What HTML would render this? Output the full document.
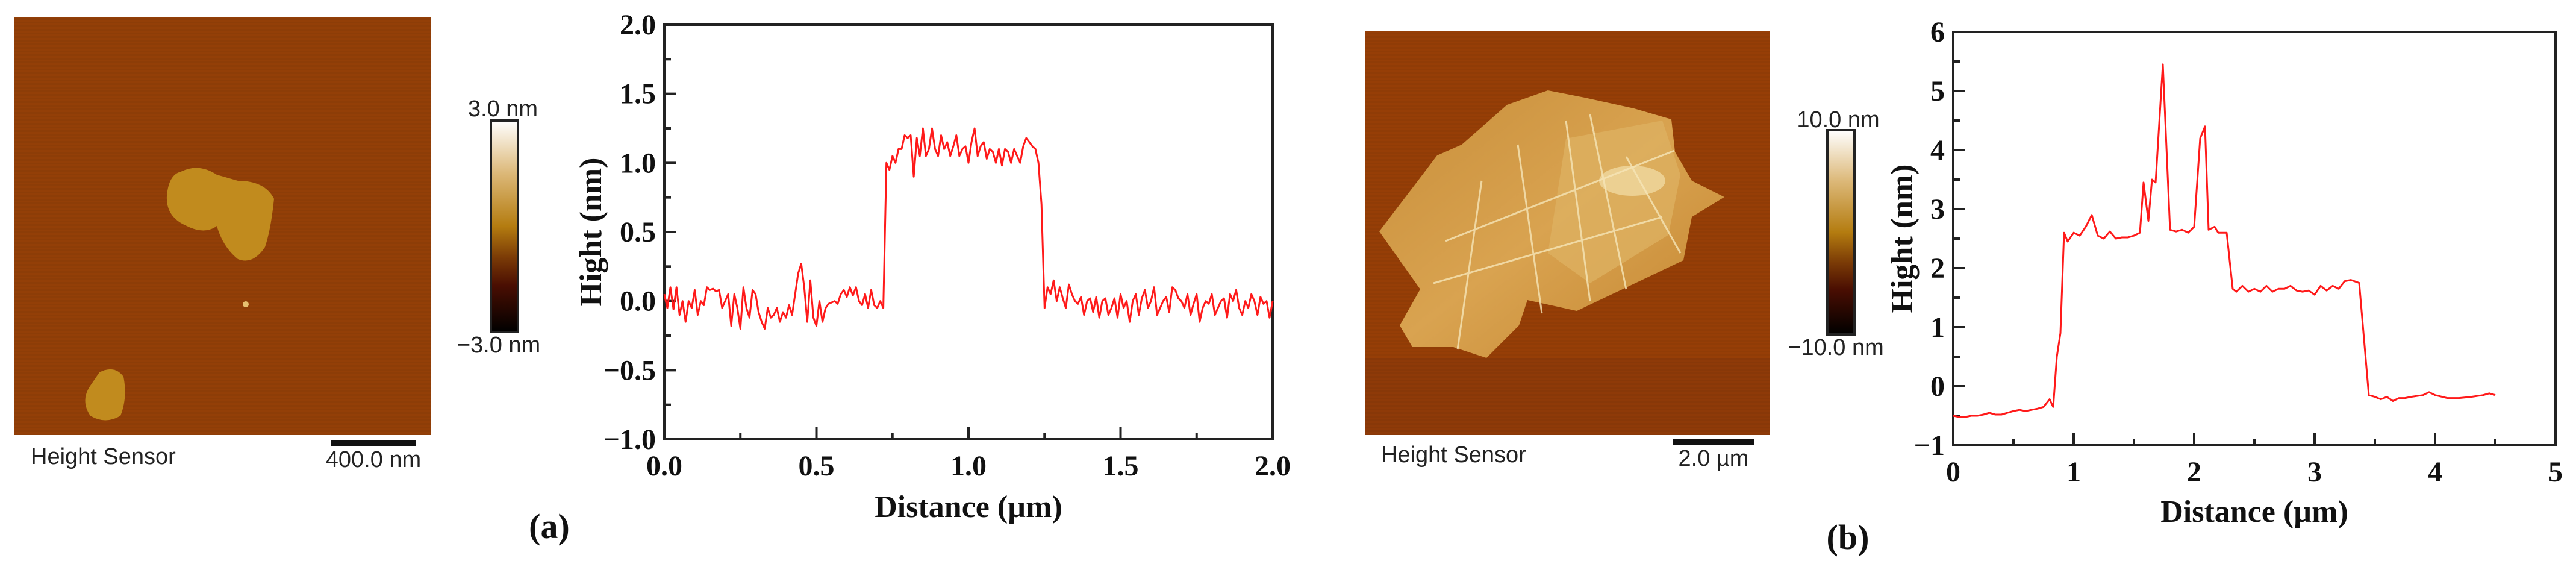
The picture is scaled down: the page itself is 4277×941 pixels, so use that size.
<!DOCTYPE html>
<html><head><meta charset="utf-8">
<style>
html,body{margin:0;padding:0;background:#fff;}
svg{display:block;}
.tk{font-family:"Liberation Serif",serif;font-weight:bold;font-size:48px;fill:#111;}
.ttl{font-family:"Liberation Serif",serif;font-weight:bold;font-size:52px;fill:#111;}
.afm{font-family:"Liberation Sans",sans-serif;font-size:38px;fill:#222;}
</style></head>
<body>
<svg id="fig" width="4277" height="941" viewBox="0 0 4277 941" xmlns="http://www.w3.org/2000/svg">
<defs>
<linearGradient id="cbar" x1="0" y1="0" x2="0" y2="1">
<stop offset="0" stop-color="#ffffff"/><stop offset="0.25" stop-color="#dcb878"/>
<stop offset="0.5" stop-color="#b47c10"/><stop offset="0.65" stop-color="#7a3a06"/>
<stop offset="0.78" stop-color="#4a0e02"/><stop offset="1" stop-color="#000"/>
</linearGradient>
<linearGradient id="flake" x1="0" y1="0" x2="1" y2="1">
<stop offset="0" stop-color="#c88e3a"/><stop offset="0.5" stop-color="#d9a350"/><stop offset="1" stop-color="#c48530"/>
</linearGradient>
<pattern id="scan" width="6" height="6" patternUnits="userSpaceOnUse"><rect width="6" height="3" fill="#000" opacity="0.04"/></pattern>
</defs>

<!-- Panel a AFM image -->
<g>
<rect x="24" y="29" width="692" height="693" fill="#933f07"/>
<rect x="24" y="29" width="692" height="693" fill="url(#scan)"/>
<path d="M300 285 Q330 270 360 290 L395 300 Q440 300 455 330 Q450 380 440 410 Q420 440 395 430 Q370 410 360 375 Q340 390 310 375 Q275 360 277 325 Q280 290 300 285 Z" fill="#c18b1e"/>
<path d="M165 618 Q190 605 205 625 Q212 660 200 690 Q175 705 150 690 Q133 665 150 640 Z" fill="#c18b1e"/>
<circle cx="408" cy="505" r="5" fill="#e6c070"/>
</g>
<rect x="815" y="200" width="45" height="351" fill="url(#cbar)" stroke="#222" stroke-width="4"/>
<text class="afm" x="835" y="193" text-anchor="middle">3.0 nm</text>
<text class="afm" x="828" y="585" text-anchor="middle">−3.0 nm</text>
<text class="afm" x="51" y="770">Height Sensor</text>
<rect x="550" y="731" width="140" height="9" fill="#111"/>
<text class="afm" x="620" y="775" text-anchor="middle">400.0 nm</text>
<text class="ttl" x="912" y="893" text-anchor="middle" style="font-size:58px">(a)</text>

<!-- Panel b AFM image -->
<g>
<rect x="2267" y="51" width="672" height="671" fill="#963e06"/>
<rect x="2267" y="594" width="672" height="128" fill="#8e3a08"/>
<rect x="2267" y="51" width="672" height="671" fill="url(#scan)"/>
<path d="M2502 174 L2570 150 L2631 162 L2713 180 L2775 198 L2781 252 L2809 300 L2863 327 L2809 360 L2795 432 L2618 516 L2536 498 L2522 540 L2468 594 L2413 576 L2345 576 L2324 540 L2358 480 L2290 384 L2345 312 L2386 258 L2427 240 L2468 204 Z" fill="url(#flake)"/>
<path d="M2600 230 L2760 200 L2790 290 L2770 390 L2640 470 L2570 420 Z" fill="#ddb060" opacity="0.8"/>
<ellipse cx="2710" cy="300" rx="55" ry="25" fill="#f0d8a0" opacity="0.8"/>
<g stroke="#f6e6b8" stroke-width="3" fill="none" opacity="0.8">
<path d="M2600 200 L2640 500"/><path d="M2640 190 L2700 480"/><path d="M2400 400 L2780 250"/><path d="M2380 470 L2760 360"/><path d="M2460 300 L2420 580"/><path d="M2700 260 L2790 420"/><path d="M2520 240 L2560 520"/>
</g>
</g>
<rect x="3034" y="216" width="45" height="339" fill="url(#cbar)" stroke="#222" stroke-width="4"/>
<text class="afm" x="3052" y="211" text-anchor="middle">10.0 nm</text>
<text class="afm" x="3048" y="589" text-anchor="middle">−10.0 nm</text>
<text class="afm" x="2293" y="767">Height Sensor</text>
<rect x="2777" y="729" width="136" height="9" fill="#111"/>
<text class="afm" x="2845" y="773" text-anchor="middle">2.0 µm</text>
<text class="ttl" x="3068" y="911" text-anchor="middle" style="font-size:58px">(b)</text>

<g id="chartA"></g>
<g id="chartB"></g>
</svg>
<script>
// ---- Chart A data ----
const stepA = 0.01;
const heightA = [
0.05,-0.05,0.1,-0.06,0.1,-0.1,0.0,-0.15,0.0,-0.05,
0.08,-0.1,0.0,-0.03,0.1,0.08,0.09,0.07,0.08,-0.05,
0.0,0.05,-0.18,0.05,-0.05,-0.2,0.1,-0.05,-0.12,0.08,
0.05,-0.08,-0.15,-0.2,-0.05,-0.12,-0.1,-0.05,-0.15,-0.08,
-0.12,-0.03,-0.1,0.05,0.2,0.27,0.1,-0.15,0.15,-0.12,
-0.18,0.0,-0.15,-0.05,-0.02,-0.01,0.0,-0.02,0.05,0.08,
0.03,0.1,0.04,0.1,0.0,-0.03,0.05,-0.05,0.08,-0.03,
-0.05,0.0,-0.05,
1.0,0.95,1.05,1.0,1.1,1.1,1.2,1.18,1.2,0.9,1.18,1.05,1.25,1.05,1.1,1.25,1.1,1.05,1.2,1.1,
1.15,1.05,1.12,1.2,1.05,1.1,1.12,1.0,1.15,1.25,1.05,1.12,1.15,1.03,1.1,1.08,1.0,1.1,0.98,1.1,
1.08,1.0,1.1,1.05,1.0,1.12,1.18,1.15,1.12,1.1,1.0,0.7,-0.05,
0.1,0.05,0.15,0.0,0.1,0.02,-0.05,0.12,0.05,0.0,
-0.02,0.03,-0.1,0.0,0.02,-0.08,0.03,-0.12,0.0,0.02,
-0.1,-0.05,0.02,-0.12,0.05,-0.05,0.0,-0.15,0.0,0.05,
-0.1,0.02,0.08,-0.05,0.0,0.1,-0.1,-0.05,0.0,0.03,
-0.08,0.1,0.08,0.02,0.0,-0.05,0.05,-0.1,-0.02,0.05,
-0.15,-0.05,0.0,-0.02,0.05,-0.1,-0.05,0.0,0.02,-0.12,
0.05,0.0,0.08,-0.05,-0.1,0.0,-0.05,0.05,0.0,-0.1,
0.03,-0.02,0.0,-0.12,0.0];
const xTicksA = ["0.0","0.5","1.0","1.5","2.0"];
const yTicksA = ["-1.0","-0.5","0.0","0.5","1.0","1.5","2.0"];

// ---- Chart B data ----
const distB = [0,0.05,0.1,0.15,0.2,0.25,0.3,0.35,0.4,0.45,0.5,0.55,0.6,0.65,0.7,0.75,0.8,0.83,0.86,0.89,0.92,0.95,1.0,1.05,1.1,1.15,1.2,1.25,1.3,1.35,1.4,1.45,1.5,1.55,1.58,1.62,1.65,1.68,1.74,1.8,1.85,1.9,1.95,2.0,2.05,2.09,2.12,2.17,2.2,2.27,2.32,2.35,2.4,2.45,2.5,2.55,2.6,2.65,2.7,2.75,2.8,2.85,2.9,2.95,3.0,3.05,3.1,3.15,3.2,3.25,3.3,3.37,3.45,3.5,3.55,3.6,3.65,3.7,3.75,3.8,3.9,3.95,4.0,4.1,4.2,4.3,4.4,4.45,4.5];
const heightB = [-0.5,-0.52,-0.52,-0.5,-0.5,-0.48,-0.45,-0.48,-0.48,-0.45,-0.42,-0.4,-0.42,-0.4,-0.38,-0.35,-0.22,-0.35,0.5,0.9,2.6,2.45,2.6,2.55,2.7,2.9,2.55,2.5,2.62,2.5,2.52,2.52,2.55,2.6,3.45,2.8,3.5,3.45,5.45,2.65,2.62,2.65,2.6,2.7,4.2,4.4,2.65,2.7,2.6,2.6,1.65,1.6,1.7,1.6,1.65,1.6,1.7,1.6,1.65,1.65,1.7,1.62,1.6,1.62,1.55,1.7,1.62,1.7,1.65,1.78,1.8,1.75,-0.15,-0.18,-0.22,-0.18,-0.25,-0.2,-0.2,-0.18,-0.15,-0.1,-0.15,-0.2,-0.2,-0.18,-0.15,-0.12,-0.15];
const xTicksB = ["0","1","2","3","4","5"];
const yTicksB = ["-1","0","1","2","3","4","5","6"];

const NS = "http://www.w3.org/2000/svg";
function mk(parent, tag, attrs){const e=document.createElementNS(NS,tag);for(const k in attrs)e.setAttribute(k,attrs[k]);parent.appendChild(e);return e;}

function drawChart(g, cfg, xs, ys, xt, yt, key){
  const sx = v => cfg.L + (v - cfg.x0)/(cfg.x1-cfg.x0)*(cfg.R-cfg.L);
  const sy = v => cfg.B - (v - cfg.y0)/(cfg.y1-cfg.y0)*(cfg.B-cfg.T);
  // frame
  const fr = mk(g,'rect',{x:cfg.L,y:cfg.T,width:cfg.R-cfg.L,height:cfg.B-cfg.T,fill:'none',stroke:'#222','stroke-width':4});
  
  
  // x ticks
  xt.forEach((lab,i)=>{
    const v = parseFloat(lab); const x = sx(v);
    const t = mk(g,'line',{x1:x,x2:x,y1:cfg.B,y2:cfg.B-20,stroke:'#222','stroke-width':4});
    
    
    if(i<xt.length-1){ const xm = sx(v+(parseFloat(xt[1])-parseFloat(xt[0]))/2);
      const m = mk(g,'line',{x1:xm,x2:xm,y1:cfg.B,y2:cfg.B-11,stroke:'#222','stroke-width':4});
      
       }
    const tx = mk(g,'text',{x:x,y:cfg.B+60,'text-anchor':'middle','class':'tk'});
    tx.textContent = lab.replace('-','−');
    
    
  });
  // y ticks
  yt.forEach((lab,i)=>{
    const v = parseFloat(lab); const y = sy(v);
    const t = mk(g,'line',{x1:cfg.L,x2:cfg.L+20,y1:y,y2:y,stroke:'#222','stroke-width':4});
    
    
    if(i<yt.length-1){ const ym = sy(v+(parseFloat(yt[1])-parseFloat(yt[0]))/2);
      const m = mk(g,'line',{x1:cfg.L,x2:cfg.L+11,y1:ym,y2:ym,stroke:'#222','stroke-width':4});
      
       }
    const tx = mk(g,'text',{x:cfg.L-14,y:y+16,'text-anchor':'end','class':'tk'});
    tx.textContent = lab.replace('-','−');
    
    
  });
  // line
  const d = xs.map((x,i)=>(i?'L':'M')+sx(x).toFixed(1)+' '+sy(ys[i]).toFixed(1)).join(' ');
  const p = mk(g,'path',{d:d,fill:'none',stroke:'#ff1a1a','stroke-width':3,'stroke-linejoin':'round'});
  
  
  // titles
  const xl = mk(g,'text',{x:(cfg.L+cfg.R)/2,y:cfg.xlY,'text-anchor':'middle','class':'ttl'});
  xl.textContent = 'Distance (µm)';
  
  
  const yl = mk(g,'text',{x:0,y:0,'text-anchor':'middle','class':'ttl',transform:'translate('+cfg.ylX+','+(cfg.T+cfg.B)/2+') rotate(-90)'});
  yl.textContent = 'Hight (nm)';
  
  
}

const distA = heightA.map((h,i)=>i*stepA);
drawChart(document.getElementById('chartA'),
  {L:1103,R:2113,T:41,B:729,x0:0,x1:2,y0:-1,y1:2,xlY:858,ylX:998},
  distA, heightA, xTicksA, yTicksA, 'chart-a');
drawChart(document.getElementById('chartB'),
  {L:3243,R:4243,T:53,B:739,x0:0,x1:5,y0:-1,y1:6,xlY:866,ylX:3175},
  distB, heightB, xTicksB, yTicksB, 'chart-b');
</script>
</body></html>
